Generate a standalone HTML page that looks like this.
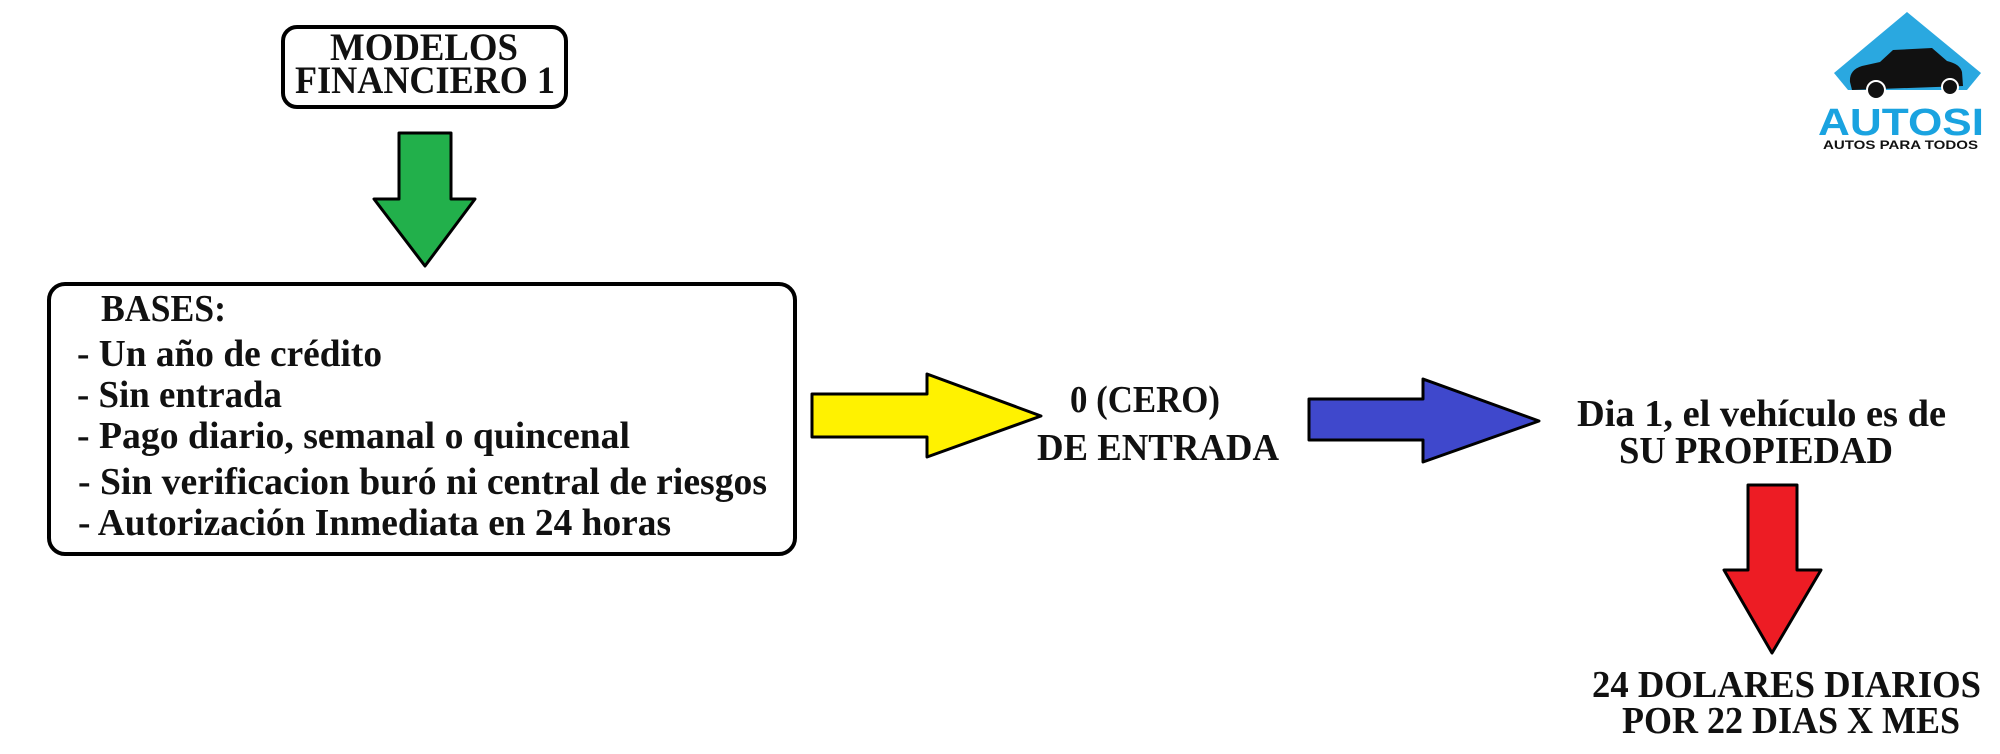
<!DOCTYPE html>
<html><head><meta charset="utf-8"><style>
html,body{margin:0;padding:0;background:#fff;width:2000px;height:754px;overflow:hidden}
svg text{font-family:"Liberation Serif",serif;font-weight:bold;fill:#111}
</style></head><body>
<svg width="2000" height="754" viewBox="0 0 2000 754" xmlns="http://www.w3.org/2000/svg">
<rect x="283" y="27" width="283" height="80" rx="14" fill="#fff" stroke="#000" stroke-width="4"/>
<text x="330" y="60" font-size="39" textLength="188" lengthAdjust="spacingAndGlyphs">MODELOS</text>
<text x="295" y="93" font-size="39" textLength="260" lengthAdjust="spacingAndGlyphs">FINANCIERO 1</text>
<polygon points="399,133 451,133 451,199 475,199 425,266 374,199 399,199" fill="#22b04b" stroke="#000" stroke-width="3" stroke-linejoin="round"/>
<rect x="49" y="284" width="746" height="270" rx="16" fill="#fff" stroke="#000" stroke-width="4"/>
<text x="101" y="321" font-size="38" textLength="125" lengthAdjust="spacingAndGlyphs">BASES:</text>
<text x="77" y="366" font-size="38" textLength="305" lengthAdjust="spacingAndGlyphs">- Un año de crédito</text>
<text x="77" y="407" font-size="38" textLength="205" lengthAdjust="spacingAndGlyphs">- Sin entrada</text>
<text x="77" y="448" font-size="38" textLength="553" lengthAdjust="spacingAndGlyphs">- Pago diario, semanal o quincenal</text>
<text x="78" y="494" font-size="38" textLength="689" lengthAdjust="spacingAndGlyphs">- Sin verificacion buró ni central de riesgos</text>
<text x="78" y="535" font-size="38" textLength="593" lengthAdjust="spacingAndGlyphs">- Autorización Inmediata en 24 horas</text>
<polygon points="812,394 927,394 927,374 1041,416 927,457 927,437 812,437" fill="#fff200" stroke="#000" stroke-width="3" stroke-linejoin="round"/>
<text x="1070" y="412" font-size="38" textLength="150" lengthAdjust="spacingAndGlyphs">0 (CERO)</text>
<text x="1037" y="460" font-size="38" textLength="242" lengthAdjust="spacingAndGlyphs">DE ENTRADA</text>
<polygon points="1309,399 1423,399 1423,379 1539,421 1423,462 1423,440 1309,440" fill="#3f48cc" stroke="#000" stroke-width="3" stroke-linejoin="round"/>
<text x="1577" y="426" font-size="38" textLength="369" lengthAdjust="spacingAndGlyphs">Dia 1, el vehículo es de</text>
<text x="1619" y="463" font-size="38" textLength="274" lengthAdjust="spacingAndGlyphs">SU PROPIEDAD</text>
<polygon points="1748,485 1797,485 1797,570 1821,570 1772,653 1724,570 1748,570" fill="#ed1c24" stroke="#000" stroke-width="3" stroke-linejoin="round"/>
<text x="1592" y="697" font-size="38" textLength="389" lengthAdjust="spacingAndGlyphs">24 DOLARES DIARIOS</text>
<text x="1622" y="733" font-size="38" textLength="338" lengthAdjust="spacingAndGlyphs">POR 22 DIAS X MES</text>
<!-- logo -->
<polygon points="1907,12 1981,73 1967,90 1848,90 1834,73" fill="#2aa8e0"/>
<path d="M1850,82 Q1849,70 1862,66 L1880,62 L1893,50 L1932,48 L1947,61 Q1960,64 1962,72 L1963,86 L1852,90 Z" fill="#111"/>
<circle cx="1876" cy="90" r="9" fill="#111" stroke="#fff" stroke-width="2"/>
<circle cx="1950" cy="87" r="8" fill="#111" stroke="#fff" stroke-width="2"/>
<text x="1818" y="135" font-size="38" textLength="166" lengthAdjust="spacingAndGlyphs" style="fill:#1aa3e0;font-family:'Liberation Sans',sans-serif">AUTOSI</text>
<text x="1823" y="149" font-size="12" textLength="155" lengthAdjust="spacingAndGlyphs" style="fill:#111;font-family:'Liberation Sans',sans-serif">AUTOS PARA TODOS</text>
</svg>
</body></html>
